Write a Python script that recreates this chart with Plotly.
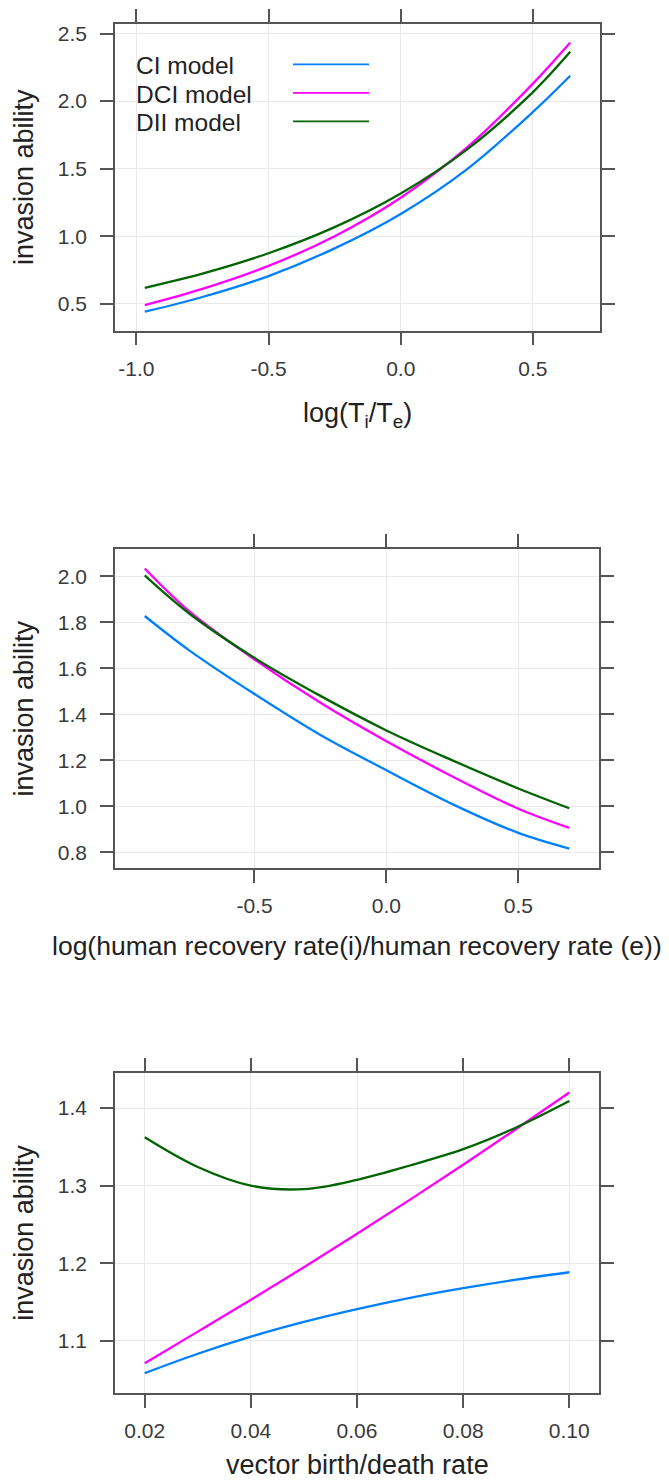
import plotly.graph_objects as go

W, H = 669, 1483

# ---------------- data ----------------
series_names = ["CI model", "DCI model", "DII model"]
series_colors = ["#0080ff", "#ff00ff", "#006400"]

# panel 1: log(Ti/Te)
p1_x = [-0.968, -0.75, -0.5, -0.25, 0.0, 0.25, 0.5, 0.641]
p1_ci = [0.441, 0.55, 0.705, 0.91, 1.165, 1.495, 1.92, 2.188]
p1_dci = [0.49, 0.61, 0.78, 1.0, 1.285, 1.655, 2.13, 2.434]
p1_dii = [0.618, 0.723, 0.874, 1.067, 1.316, 1.641, 2.067, 2.365]

# panel 2: log(human recovery rate(i)/human recovery rate (e))
p2_x = [-0.916, -0.75, -0.5, -0.25, 0.0, 0.25, 0.5, 0.693]
p2_ci = [1.827, 1.68, 1.488, 1.31, 1.157, 1.01, 0.885, 0.817]
p2_dci = [2.033, 1.85, 1.638, 1.45, 1.283, 1.13, 0.99, 0.907]
p2_dii = [2.003, 1.84, 1.645, 1.48, 1.33, 1.2, 1.078, 0.992]

# panel 3: vector birth/death rate
p3_x = [0.02, 0.03, 0.04, 0.05, 0.06, 0.07, 0.08, 0.09, 0.10]
p3_ci = [1.0585, 1.0835, 1.1055, 1.1245, 1.141, 1.1555, 1.168, 1.179, 1.1885]
p3_dci = [1.0714, 1.112, 1.153, 1.195, 1.238, 1.282, 1.327, 1.373, 1.420]
p3_dii = [1.3623, 1.324, 1.3, 1.2955, 1.3075, 1.326, 1.347, 1.375, 1.409]

# tick values / labels
p1_xticks = [-1.0, -0.5, 0.0, 0.5]
p1_xlabels = ["-1.0", "-0.5", "0.0", "0.5"]
p1_yticks = [0.5, 1.0, 1.5, 2.0, 2.5]
p1_ylabels = ["0.5", "1.0", "1.5", "2.0", "2.5"]
p2_xticks = [-0.5, 0.0, 0.5]
p2_xlabels = ["-0.5", "0.0", "0.5"]
p2_yticks = [0.8, 1.0, 1.2, 1.4, 1.6, 1.8, 2.0]
p2_ylabels = ["0.8", "1.0", "1.2", "1.4", "1.6", "1.8", "2.0"]
p3_xticks = [0.02, 0.04, 0.06, 0.08, 0.10]
p3_xlabels = ["0.02", "0.04", "0.06", "0.08", "0.10"]
p3_yticks = [1.1, 1.2, 1.3, 1.4]
p3_ylabels = ["1.1", "1.2", "1.3", "1.4"]

x_titles = ["log(T<sub>i</sub>/T<sub>e</sub>)",
            "log(human recovery rate(i)/human recovery rate (e))",
            "vector birth/death rate"]
y_title = "invasion ability"

panels = [
    dict(x=p1_x, ys=[p1_ci, p1_dci, p1_dii], xt=p1_xticks, xl=p1_xlabels,
         yt=p1_yticks, yl=p1_ylabels, frame=(115, 600, 21.7, 329.0), xtitle_y=414),
    dict(x=p2_x, ys=[p2_ci, p2_dci, p2_dii], xt=p2_xticks, xl=p2_xlabels,
         yt=p2_yticks, yl=p2_ylabels, frame=(115, 599, 547.7, 867.3), xtitle_y=945),
    dict(x=p3_x, ys=[p3_ci, p3_dci, p3_dii], xt=p3_xticks, xl=p3_xlabels,
         yt=p3_yticks, yl=p3_ylabels, frame=(115, 599, 1072.3, 1392.7), xtitle_y=1465),
]

FONT = "Liberation Sans, Arial, sans-serif"
FRAME_COL = "#555555"
GRID_COL = "#e9e9e9"
TICK_FONT = dict(family=FONT, size=21, color="#3a3a3a")
TITLE_FONT = dict(family=FONT, size=27, color="#222222")


def padded(vals, frac=0.07):
    lo, hi = min(vals), max(vals)
    d = hi - lo
    return [lo - frac * d, hi + frac * d]


fig = go.Figure()
layout = dict(
    width=W, height=H, margin=dict(l=0, r=0, t=0, b=0),
    paper_bgcolor="white", plot_bgcolor="white", showlegend=False,
    annotations=[], shapes=[],
)

for i, p in enumerate(panels, start=1):
    sfx = "" if i == 1 else str(i)
    xl, xr, yt, yb = p["frame"]
    xdom = [xl / W, xr / W]
    ydom = [1 - yb / H, 1 - yt / H]
    allys = [v for s in p["ys"] for v in s]
    common = dict(showline=True, linecolor=FRAME_COL, linewidth=1.6, mirror="ticks",
                  ticks="outside", ticklen=13, tickwidth=1.6, tickcolor=FRAME_COL,
                  showgrid=True, gridcolor=GRID_COL, gridwidth=1, zeroline=False,
                  tickfont=TICK_FONT, fixedrange=True)
    layout["xaxis" + sfx] = dict(domain=xdom, range=padded(p["x"]), tickmode="array",
                                 tickvals=p["xt"], ticktext=p["xl"],
                                 anchor="y" + sfx, ticklabelstandoff=5, **common)
    layout["yaxis" + sfx] = dict(domain=ydom, range=padded(allys), tickmode="array",
                                 tickvals=p["yt"], ticktext=p["yl"],
                                 anchor="x" + sfx, ticklabelstandoff=9, **common)
    for name, col, ys in zip(series_names, series_colors, p["ys"]):
        fig.add_trace(go.Scatter(x=p["x"], y=ys, mode="lines", name=name,
                                 line=dict(color=col, width=2.3, shape="spline", smoothing=1.0),
                                 xaxis="x" + sfx, yaxis="y" + sfx, showlegend=False))
    # axis titles
    tfont = dict(TITLE_FONT)
    if i == 2:
        tfont["size"] = 26.5
    layout["annotations"].append(dict(
        text=x_titles[i - 1], xref="paper", yref="paper",
        x=(xl + xr) / 2 / W, y=1 - p["xtitle_y"] / H, xanchor="center", yanchor="middle",
        showarrow=False, font=tfont))
    layout["annotations"].append(dict(
        text=y_title, xref="paper", yref="paper", textangle=-90,
        x=24 / W, y=1 - (yt + yb) / 2 / H, xanchor="center", yanchor="middle",
        showarrow=False, font=TITLE_FONT))

# key (legend) inside panel 1: text on the left, line sample on the right
key_rows_y = [64.0, 92.5, 121.0]
for name, col, yy in zip(series_names, series_colors, key_rows_y):
    layout["annotations"].append(dict(
        text=name, xref="paper", yref="paper", x=134 / W, y=1 - yy / H,
        xanchor="left", yanchor="middle", showarrow=False,
        font=dict(family=FONT, size=24.5, color="#222222")))
    layout["shapes"].append(dict(
        type="line", xref="paper", yref="paper", x0=293 / W, x1=369 / W,
        y0=1 - (yy - 1.5) / H, y1=1 - (yy - 1.5) / H,
        line=dict(color=col, width=1.6)))

fig.update_layout(**layout)
fig.write_html("out.html")
